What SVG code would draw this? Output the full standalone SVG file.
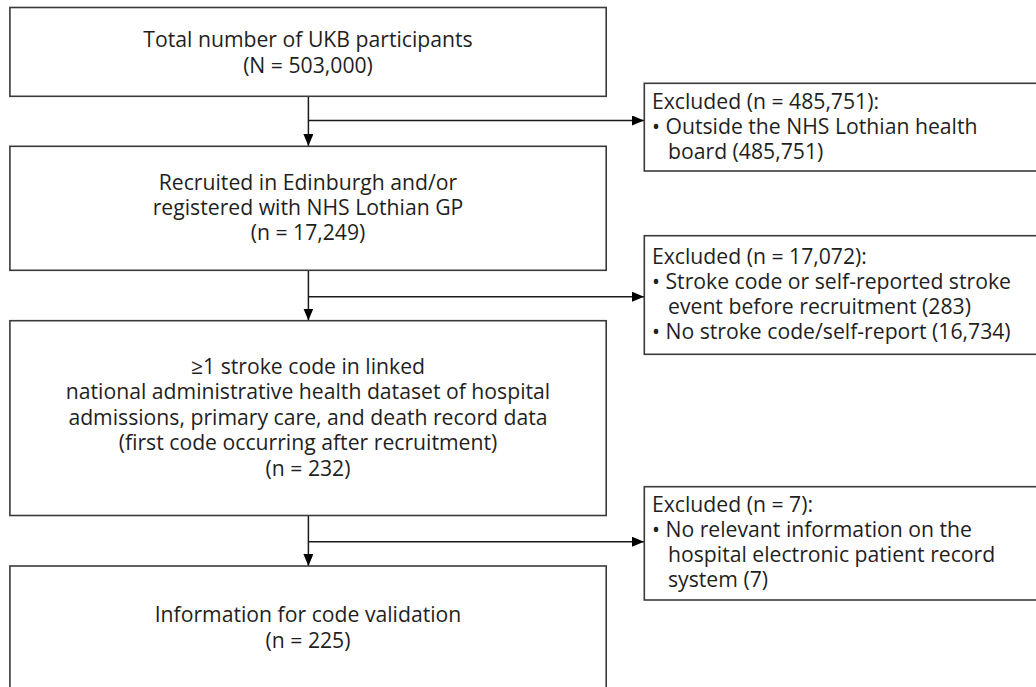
<svg xmlns="http://www.w3.org/2000/svg" width="1036" height="687" viewBox="0 0 1036 687">
<style>
  .box { fill: #ffffff; stroke: #3a3a3a; stroke-width: 1.6; }
  .t { font-family: "Open Sans", "Noto Sans", "Liberation Sans", sans-serif; font-size: 21.2px; fill: #1f1f1f; }
  .c { text-anchor: middle; }
  .line { fill: none; stroke: #1a1a1a; stroke-width: 1.5; }
</style>
<defs>
  <marker id="arr" viewBox="0 0 12 10" refX="12" refY="5" markerWidth="12" markerHeight="10" markerUnits="userSpaceOnUse" orient="auto">
    <path d="M0,0 L12,5 L0,10 Z" fill="#000000"/>
  </marker>
</defs>
<rect width="1036" height="687" fill="#ffffff"/>

<g id="connectors">
  <line class="line" x1="308.4" y1="96.3" x2="308.4" y2="146" marker-end="url(#arr)"/>
  <line class="line" x1="308.4" y1="120.5" x2="644" y2="120.5" marker-end="url(#arr)"/>
  <line class="line" x1="308.4" y1="270.3" x2="308.4" y2="320.5" marker-end="url(#arr)"/>
  <line class="line" x1="308.4" y1="296.7" x2="644" y2="296.7" marker-end="url(#arr)"/>
  <line class="line" x1="308.4" y1="515.5" x2="308.4" y2="566" marker-end="url(#arr)"/>
  <line class="line" x1="308.4" y1="541.7" x2="644" y2="541.7" marker-end="url(#arr)"/>
</g>

<g id="node-total">
  <rect class="box" x="9.9" y="7.5" width="596.3" height="88.8"/>
  <text class="t c" x="308" y="47">Total number of UKB participants</text>
  <text class="t c" x="308" y="72.7">(N = 503,000)</text>
</g>

<g id="node-recruited">
  <rect class="box" x="9.9" y="146.3" width="596.3" height="124"/>
  <text class="t c" x="308" y="189.5">Recruited in Edinburgh and/or</text>
  <text class="t c" x="308" y="214.5">registered with NHS Lothian GP</text>
  <text class="t c" x="308" y="239.5">(n = 17,249)</text>
</g>

<g id="node-stroke">
  <rect class="box" x="9.9" y="320.7" width="596.3" height="194.8"/>
  <text class="t c" x="308" y="373.8">≥1 stroke code in linked</text>
  <text class="t c" x="308" y="399.3">national administrative health dataset of hospital</text>
  <text class="t c" x="308" y="424.8">admissions, primary care, and death record data</text>
  <text class="t c" x="308" y="450">(first code occurring after recruitment)</text>
  <text class="t c" x="308" y="475.5">(n = 232)</text>
</g>

<g id="node-info">
  <rect class="box" x="9.9" y="566" width="596.3" height="140"/>
  <text class="t c" x="308" y="622">Information for code validation</text>
  <text class="t c" x="308" y="648">(n = 225)</text>
</g>

<g id="node-excl1">
  <rect class="box" x="644.3" y="83.3" width="400" height="87.7"/>
  <text class="t" x="652" y="108.8">Excluded (n = 485,751):</text>
  <text class="t" x="652" y="133.8">• Outside the NHS Lothian health</text>
  <text class="t" x="668" y="158.8">board (485,751)</text>
</g>

<g id="node-excl2">
  <rect class="box" x="644.3" y="235.7" width="400" height="118.6"/>
  <text class="t" x="652" y="263.8">Excluded (n = 17,072):</text>
  <text class="t" x="652" y="288.8">• Stroke code or self-reported stroke</text>
  <text class="t" x="668" y="313.8">event before recruitment (283)</text>
  <text class="t" x="652" y="339">• No stroke code/self-report (16,734)</text>
</g>

<g id="node-excl3">
  <rect class="box" x="644.3" y="486.7" width="400" height="113.3"/>
  <text class="t" x="652" y="512.2">Excluded (n = 7):</text>
  <text class="t" x="652" y="537.2">• No relevant information on the</text>
  <text class="t" x="668" y="562.2">hospital electronic patient record</text>
  <text class="t" x="668" y="587.2">system (7)</text>
</g>
</svg>
